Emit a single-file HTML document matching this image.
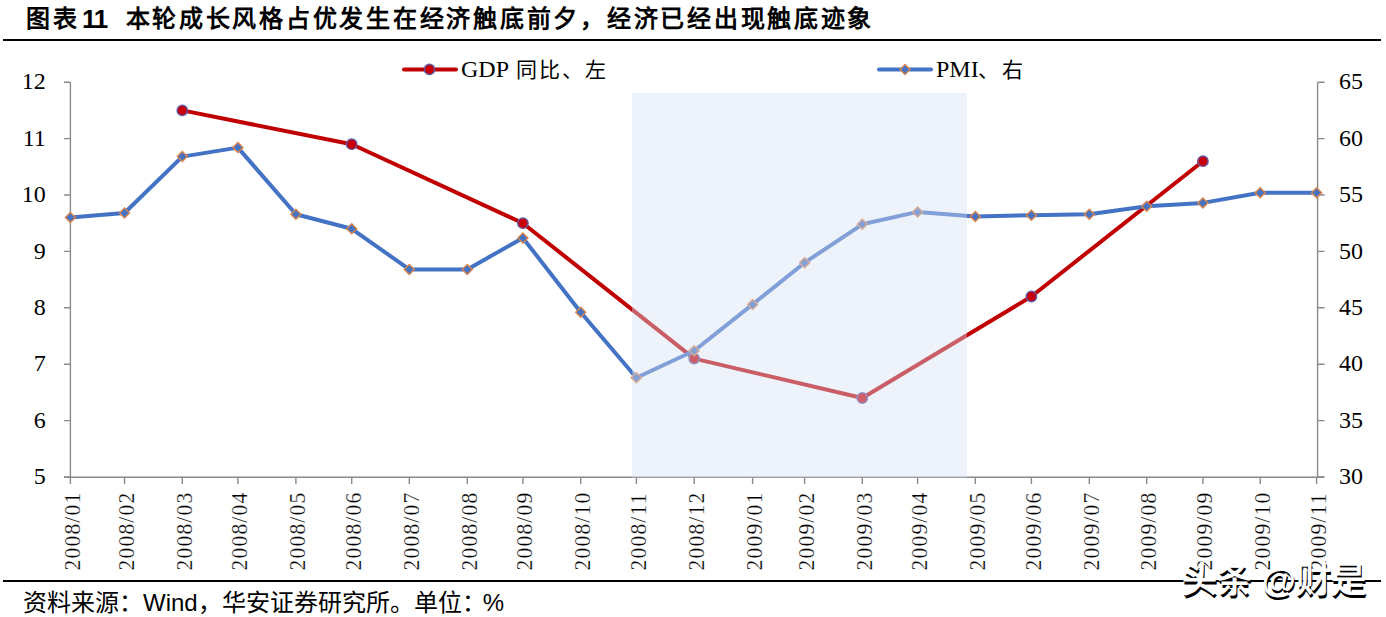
<!DOCTYPE html>
<html lang="zh-CN"><head><meta charset="utf-8">
<style>
html,body{margin:0;padding:0;background:#fff;}
*{text-spacing-trim:space-all;}
body{width:1386px;height:617px;position:relative;overflow:hidden;font-family:"Liberation Serif",serif;}
.abs{position:absolute;white-space:nowrap;}
.title{top:3px;font-size:24px;font-weight:bold;font-family:"Liberation Sans",sans-serif;line-height:32px;letter-spacing:2.6px;color:#000;}
.rule{position:absolute;left:3px;width:1378px;height:2px;background:#000;}
.leg{font-family:"Liberation Serif",serif;font-size:24px;line-height:26px;color:#000;}
.cj{font-size:21px;letter-spacing:2px;}
.src{left:23px;top:588px;font-size:24px;line-height:30px;color:#000;font-family:"Liberation Serif",serif;}
.src .s{font-family:"Liberation Sans",sans-serif;letter-spacing:0;font-weight:400;}
.wm{left:1182px;top:560px;font-size:35px;line-height:40px;color:#fff;font-family:"Liberation Sans",sans-serif;text-shadow:1px 2.5px 0 #000;font-weight:bold;}
svg{position:absolute;left:0;top:0;}
</style></head><body>
<div class="abs title" style="left:26px">图表</div><div class="abs title" style="left:82px;top:3px;font-size:26px;letter-spacing:-1.2px">11</div><div class="abs title" style="left:125.5px;letter-spacing:2.74px">本轮成长风格占优发生在经济触底前夕，经济已经出现触底迹象</div>
<div class="rule" style="top:39px"></div>
<svg width="1386" height="617" viewBox="0 0 1386 617">
<g stroke-linecap="round">
<line x1="404" y1="69.4" x2="456" y2="69.4" stroke="#C00000" stroke-width="4"/>
<circle cx="429.5" cy="69.4" r="5.2" fill="#C80006" stroke="#5F5AA6" stroke-width="1.4"/>
<line x1="879" y1="69.4" x2="931" y2="69.4" stroke="#4472C4" stroke-width="4"/>
<path d="M905 64.4L910 69.4L905 74.4L900 69.4Z" fill="#4472C4" stroke="#D8844E" stroke-width="1.4"/>
</g>
<g stroke="#8a8a8a" stroke-width="1.4" fill="none">
<path d="M70.4 82.2V477.4M1317.6 82.2V477.4M64 477.2H1324"/>
<path d="M64 82.2H70.4M1317.6 82.2H1324.6M64 138.6H70.4M1317.6 138.6H1324.6M64 195.0H70.4M1317.6 195.0H1324.6M64 251.4H70.4M1317.6 251.4H1324.6M64 307.8H70.4M1317.6 307.8H1324.6M64 364.2H70.4M1317.6 364.2H1324.6M64 420.6H70.4M1317.6 420.6H1324.6M64 477.0H70.4M1317.6 477.0H1324.6M70.4 477.2V484M124.5 477.2V484M182.3 477.2V484M237.9 477.2V484M295.9 477.2V484M351.7 477.2V484M409.3 477.2V484M467.3 477.2V484M522.9 477.2V484M580.7 477.2V484M636.4 477.2V484M694.2 477.2V484M752.6 477.2V484M804.6 477.2V484M862.3 477.2V484M917.6 477.2V484M975.3 477.2V484M1031.4 477.2V484M1089.3 477.2V484M1146.7 477.2V484M1202.9 477.2V484M1260.2 477.2V484M1316.6 477.2V484"/>
</g>
<polyline points="182.3,110.4 351.7,144.2 522.9,223.2 694.2,358.6 862.3,398.0 1031.4,296.5 1202.9,161.2" fill="none" stroke="#C00000" stroke-width="4" stroke-linejoin="round"/>
<circle cx="182.3" cy="110.4" r="5.2" fill="#C80006" stroke="#5F5AA6" stroke-width="1.4"/>
<circle cx="351.7" cy="144.2" r="5.2" fill="#C80006" stroke="#5F5AA6" stroke-width="1.4"/>
<circle cx="522.9" cy="223.2" r="5.2" fill="#C80006" stroke="#5F5AA6" stroke-width="1.4"/>
<circle cx="694.2" cy="358.6" r="5.2" fill="#C80006" stroke="#5F5AA6" stroke-width="1.4"/>
<circle cx="862.3" cy="398.0" r="5.2" fill="#C80006" stroke="#5F5AA6" stroke-width="1.4"/>
<circle cx="1031.4" cy="296.5" r="5.2" fill="#C80006" stroke="#5F5AA6" stroke-width="1.4"/>
<circle cx="1202.9" cy="161.2" r="5.2" fill="#C80006" stroke="#5F5AA6" stroke-width="1.4"/>
<polyline points="70.4,217.6 124.5,213.0 182.3,156.6 237.9,147.6 295.9,214.2 351.7,228.8 409.3,269.4 467.3,269.4 522.9,237.9 580.7,312.3 636.4,377.7 694.2,350.7 752.6,304.4 804.6,262.7 862.3,224.3 917.6,211.9 975.3,216.4 1031.4,215.3 1089.3,214.2 1146.7,206.3 1202.9,202.9 1260.2,192.7 1316.6,192.7" fill="none" stroke="#4472C4" stroke-width="4" stroke-linejoin="round"/>
<path d="M70.4 212.6L75.4 217.6L70.4 222.6L65.4 217.6Z" fill="#4472C4" stroke="#D8844E" stroke-width="1.4"/>
<path d="M124.5 208.0L129.5 213.0L124.5 218.0L119.5 213.0Z" fill="#4472C4" stroke="#D8844E" stroke-width="1.4"/>
<path d="M182.3 151.6L187.3 156.6L182.3 161.6L177.3 156.6Z" fill="#4472C4" stroke="#D8844E" stroke-width="1.4"/>
<path d="M237.9 142.6L242.9 147.6L237.9 152.6L232.9 147.6Z" fill="#4472C4" stroke="#D8844E" stroke-width="1.4"/>
<path d="M295.9 209.2L300.9 214.2L295.9 219.2L290.9 214.2Z" fill="#4472C4" stroke="#D8844E" stroke-width="1.4"/>
<path d="M351.7 223.8L356.7 228.8L351.7 233.8L346.7 228.8Z" fill="#4472C4" stroke="#D8844E" stroke-width="1.4"/>
<path d="M409.3 264.4L414.3 269.4L409.3 274.4L404.3 269.4Z" fill="#4472C4" stroke="#D8844E" stroke-width="1.4"/>
<path d="M467.3 264.4L472.3 269.4L467.3 274.4L462.3 269.4Z" fill="#4472C4" stroke="#D8844E" stroke-width="1.4"/>
<path d="M522.9 232.9L527.9 237.9L522.9 242.9L517.9 237.9Z" fill="#4472C4" stroke="#D8844E" stroke-width="1.4"/>
<path d="M580.7 307.3L585.7 312.3L580.7 317.3L575.7 312.3Z" fill="#4472C4" stroke="#D8844E" stroke-width="1.4"/>
<path d="M636.4 372.7L641.4 377.7L636.4 382.7L631.4 377.7Z" fill="#4472C4" stroke="#D8844E" stroke-width="1.4"/>
<path d="M694.2 345.7L699.2 350.7L694.2 355.7L689.2 350.7Z" fill="#4472C4" stroke="#D8844E" stroke-width="1.4"/>
<path d="M752.6 299.4L757.6 304.4L752.6 309.4L747.6 304.4Z" fill="#4472C4" stroke="#D8844E" stroke-width="1.4"/>
<path d="M804.6 257.7L809.6 262.7L804.6 267.7L799.6 262.7Z" fill="#4472C4" stroke="#D8844E" stroke-width="1.4"/>
<path d="M862.3 219.3L867.3 224.3L862.3 229.3L857.3 224.3Z" fill="#4472C4" stroke="#D8844E" stroke-width="1.4"/>
<path d="M917.6 206.9L922.6 211.9L917.6 216.9L912.6 211.9Z" fill="#4472C4" stroke="#D8844E" stroke-width="1.4"/>
<path d="M975.3 211.4L980.3 216.4L975.3 221.4L970.3 216.4Z" fill="#4472C4" stroke="#D8844E" stroke-width="1.4"/>
<path d="M1031.4 210.3L1036.4 215.3L1031.4 220.3L1026.4 215.3Z" fill="#4472C4" stroke="#D8844E" stroke-width="1.4"/>
<path d="M1089.3 209.2L1094.3 214.2L1089.3 219.2L1084.3 214.2Z" fill="#4472C4" stroke="#D8844E" stroke-width="1.4"/>
<path d="M1146.7 201.3L1151.7 206.3L1146.7 211.3L1141.7 206.3Z" fill="#4472C4" stroke="#D8844E" stroke-width="1.4"/>
<path d="M1202.9 197.9L1207.9 202.9L1202.9 207.9L1197.9 202.9Z" fill="#4472C4" stroke="#D8844E" stroke-width="1.4"/>
<path d="M1260.2 187.7L1265.2 192.7L1260.2 197.7L1255.2 192.7Z" fill="#4472C4" stroke="#D8844E" stroke-width="1.4"/>
<path d="M1316.6 187.7L1321.6 192.7L1316.6 197.7L1311.6 192.7Z" fill="#4472C4" stroke="#D8844E" stroke-width="1.4"/>
<rect x="632" y="93" width="335" height="384.6" fill="rgb(214,224,243)" fill-opacity="0.42"/>
<g font-family="Liberation Serif" font-size="24" fill="#000">
<text x="45.8" y="89.4" text-anchor="end">12</text>
<text x="1339" y="89.4">65</text>
<text x="45.8" y="145.8" text-anchor="end">11</text>
<text x="1339" y="145.8">60</text>
<text x="45.8" y="202.2" text-anchor="end">10</text>
<text x="1339" y="202.2">55</text>
<text x="45.8" y="258.6" text-anchor="end">9</text>
<text x="1339" y="258.6">50</text>
<text x="45.8" y="315.0" text-anchor="end">8</text>
<text x="1339" y="315.0">45</text>
<text x="45.8" y="371.4" text-anchor="end">7</text>
<text x="1339" y="371.4">40</text>
<text x="45.8" y="427.8" text-anchor="end">6</text>
<text x="1339" y="427.8">35</text>
<text x="45.8" y="484.2" text-anchor="end">5</text>
<text x="1339" y="484.2">30</text>
</g>
<g font-family="Liberation Serif" font-size="24" fill="#000" stroke="#fff" stroke-width="0.25" letter-spacing="1.3">
<text transform="translate(79.7 570.5) rotate(-90) scale(0.9 1)">2008/01</text>
<text transform="translate(133.8 570.5) rotate(-90) scale(0.9 1)">2008/02</text>
<text transform="translate(191.6 570.5) rotate(-90) scale(0.9 1)">2008/03</text>
<text transform="translate(247.2 570.5) rotate(-90) scale(0.9 1)">2008/04</text>
<text transform="translate(305.2 570.5) rotate(-90) scale(0.9 1)">2008/05</text>
<text transform="translate(361.0 570.5) rotate(-90) scale(0.9 1)">2008/06</text>
<text transform="translate(418.6 570.5) rotate(-90) scale(0.9 1)">2008/07</text>
<text transform="translate(476.6 570.5) rotate(-90) scale(0.9 1)">2008/08</text>
<text transform="translate(532.2 570.5) rotate(-90) scale(0.9 1)">2008/09</text>
<text transform="translate(590.0 570.5) rotate(-90) scale(0.9 1)">2008/10</text>
<text transform="translate(645.7 570.5) rotate(-90) scale(0.9 1)">2008/11</text>
<text transform="translate(703.5 570.5) rotate(-90) scale(0.9 1)">2008/12</text>
<text transform="translate(761.9 570.5) rotate(-90) scale(0.9 1)">2009/01</text>
<text transform="translate(813.9 570.5) rotate(-90) scale(0.9 1)">2009/02</text>
<text transform="translate(871.6 570.5) rotate(-90) scale(0.9 1)">2009/03</text>
<text transform="translate(926.9 570.5) rotate(-90) scale(0.9 1)">2009/04</text>
<text transform="translate(984.6 570.5) rotate(-90) scale(0.9 1)">2009/05</text>
<text transform="translate(1040.7 570.5) rotate(-90) scale(0.9 1)">2009/06</text>
<text transform="translate(1098.6 570.5) rotate(-90) scale(0.9 1)">2009/07</text>
<text transform="translate(1156.0 570.5) rotate(-90) scale(0.9 1)">2009/08</text>
<text transform="translate(1212.2 570.5) rotate(-90) scale(0.9 1)">2009/09</text>
<text transform="translate(1269.5 570.5) rotate(-90) scale(0.9 1)">2009/10</text>
<text transform="translate(1325.9 570.5) rotate(-90) scale(0.9 1)">2009/11</text>
</g>
</svg>
<div class="abs leg" style="left:461px;top:56px;">GDP</div><div class="abs leg cj" style="left:516px;top:57px;">同比、左</div>
<div class="abs leg" style="left:936px;top:56px;">PMI</div><div class="abs leg cj" style="left:978px;top:57px;">、<span style="margin-left:1px">右</span></div>
<div class="rule" style="top:580px"></div>
<div class="abs src">资料来源：<span class="s">Wind</span>，华安证券研究所。单位：<span class="s" style="margin-left:-3px">%</span></div>
<div class="abs wm">头条 @财是</div>
</body></html>
